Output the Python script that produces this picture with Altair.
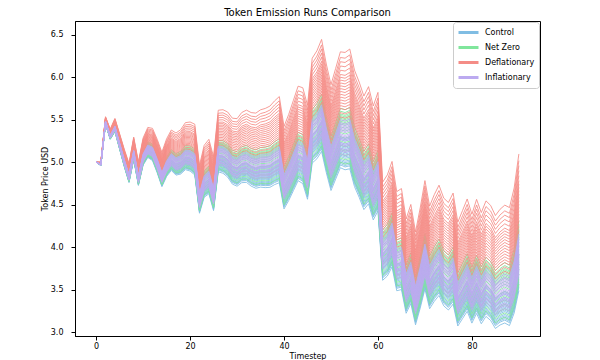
import altair as alt
import pandas as pd

# ---- data ------------------------------------------------------------------
timesteps = list(range(91))

# centre of the lower (Control) bundle at every timestep
base_price = [
    5.00, 4.97, 5.47, 5.30, 5.40, 5.20, 5.00, 4.82, 5.10, 4.80,
    5.05, 5.15, 5.12, 4.98, 4.82, 4.95, 5.03, 4.98, 5.00, 5.06,
    5.05, 5.01, 4.55, 4.75, 4.80, 4.60, 5.08, 5.07, 5.03, 4.95,
    4.93, 4.98, 4.99, 4.95, 4.93, 4.95, 4.95, 4.96, 5.00, 5.03,
    4.71, 4.82, 4.95, 5.08, 5.05, 4.86, 5.32, 5.38, 5.48, 5.22,
    5.00, 5.15, 5.30, 5.28, 5.30, 5.08, 4.95, 4.80, 4.88, 4.68,
    4.80, 3.92, 3.98, 4.10, 3.80, 3.82, 3.52, 3.65, 3.38, 3.60,
    3.85, 3.60, 3.70, 3.78, 3.65, 3.60, 3.68, 3.40, 3.50, 3.60,
    3.45, 3.58, 3.45, 3.55, 3.50, 3.40, 3.45, 3.48, 3.45, 3.62,
    3.92,
]

scenarios = ["Control", "Net Zero", "Deflationary", "Inflationary"]
colors = ["#80bde3", "#80e69c", "#f48c86", "#bcaaf0"]

# relative deviation of each run from the centre path at the last timestep
control_runs = [-0.11, -0.10, -0.095, -0.09, -0.085, -0.08, -0.07, -0.065, -0.06, -0.055,
                -0.05, -0.045, -0.04, -0.035, -0.03, -0.025, -0.02, -0.01, -0.005, 0.0]
netzero_runs = [-0.09, -0.075, -0.06, -0.045, -0.03, -0.015, 0.0, 0.015, 0.025, 0.035,
                0.045, 0.05, 0.055, 0.06, 0.065, 0.07, 0.075, 0.08, 0.09, 0.10]
deflationary_runs = [0.07, 0.085, 0.10, 0.11, 0.12, 0.13, 0.14, 0.15, 0.16, 0.17,
                     0.18, 0.19, 0.20, 0.21, 0.22, 0.235, 0.25, 0.265, 0.28, 0.30]
inflationary_runs = [-0.06, -0.05, -0.045, -0.04, -0.03, -0.025, -0.02, -0.01, -0.005, 0.0,
                     0.005, 0.01, 0.02, 0.025, 0.03, 0.035, 0.04, 0.045, 0.05, 0.06]

run_sets = [control_runs, netzero_runs, deflationary_runs, inflationary_runs]
spread_growth = 0.85  # how quickly the runs fan out over time

rows = []
for scen, runs in zip(scenarios, run_sets):
    for i, dev in enumerate(runs):
        for t, b in zip(timesteps, base_price):
            frac = (t / timesteps[-1]) ** spread_growth
            rows.append({"scenario": scen, "run": f"{scen}-{i}", "t": t,
                         "price": b * (1 + dev * frac)})
df = pd.DataFrame(rows)

FONT = "DejaVu Sans"

x_enc = alt.X("t:Q", title="Timestep",
              scale=alt.Scale(domain=[-4.5, 94.5], nice=False, zero=False),
              axis=alt.Axis(values=[0, 20, 40, 60, 80], format="d",
                            labelPadding=2, titlePadding=2))
y_enc = alt.Y("price:Q", title="Token Price USD",
              scale=alt.Scale(domain=[2.955, 6.66], nice=False, zero=False),
              axis=alt.Axis(values=[3.0, 3.5, 4.0, 4.5, 5.0, 5.5, 6.0, 6.5], format=".1f",
                            labelPadding=8, titlePadding=1))
color_enc = alt.Color("scenario:N",
                      scale=alt.Scale(domain=scenarios, range=colors),
                      legend=alt.Legend(title=None, orient="none", legendX=378, legendY=1,
                                        symbolType="M-1,0H3", symbolStrokeWidth=3,
                                        symbolSize=100, labelFontSize=8, labelFont=FONT,
                                        labelColor="#000", labelOffset=15, padding=4,
                                        rowPadding=2, strokeColor="#cccccc",
                                        fillColor="white", cornerRadius=3,
                                        symbolOpacity=1))

layers = []
for scen in scenarios:
    layers.append(
        alt.Chart(df[df["scenario"] == scen])
        .mark_line(strokeWidth=0.9, opacity=0.95)
        .encode(x=x_enc, y=y_enc, color=color_enc, detail="run:N")
    )

chart = (
    alt.layer(*layers)
    .properties(width=465, height=315,
                title=alt.TitleParams("Token Emission Runs Comparison", font=FONT,
                                      fontSize=10, fontWeight="normal", color="#000",
                                      offset=3),
                autosize=alt.AutoSizeParams(type="none"),
                padding={"left": 67, "top": 13, "right": 52, "bottom": 24})
    .configure_view(stroke="#000000", strokeWidth=1)
    .configure_axis(labelFont=FONT, titleFont=FONT, labelFontSize=8, titleFontSize=8,
                    titleFontWeight="normal", labelColor="#000", titleColor="#000",
                    domainColor="#000", tickColor="#000", tickSize=4, grid=False)
)

chart.save("out.html", embed_options={"renderer": "svg", "actions": False})
